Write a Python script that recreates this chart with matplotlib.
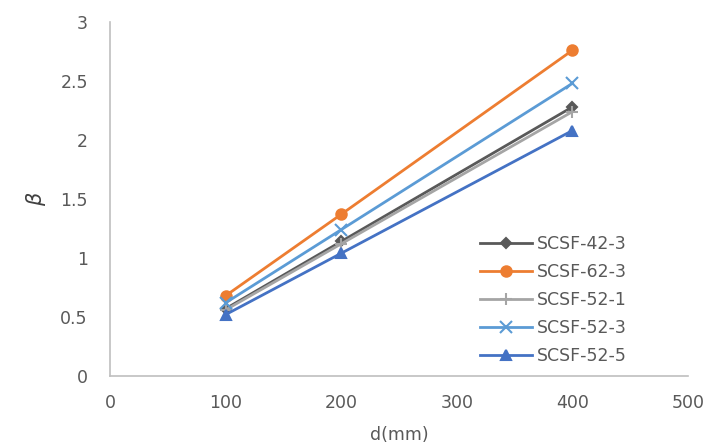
import numpy as np
import matplotlib
matplotlib.use('Agg')
import matplotlib.pyplot as plt
from matplotlib import rcParams

rcParams['font.family'] = ['DejaVu Sans']
rcParams['font.size'] = 12.5

d = [100, 200, 400]
labels = ['SCSF-42-3', 'SCSF-62-3', 'SCSF-52-1', 'SCSF-52-3', 'SCSF-52-5']
beta_42_3 = [0.57, 1.14, 2.28]
beta_62_3 = [0.68, 1.37, 2.76]
beta_52_1 = [0.56, 1.12, 2.24]
beta_52_3 = [0.62, 1.24, 2.48]
beta_52_5 = [0.52, 1.04, 2.08]
xticks = [0, 100, 200, 300, 400, 500]
yticks = [0, 0.5, 1, 1.5, 2, 2.5, 3]

series = [beta_42_3, beta_62_3, beta_52_1, beta_52_3, beta_52_5]
colors = ['#595959', '#ED7D31', '#A5A5A5', '#5B9BD5', '#4472C4']
markers = ['D', 'o', '+', 'x', '^']
msizes = [5, 7.5, 8, 8, 7.5]

W, H = 707, 446
fig = plt.figure(figsize=(W / 100, H / 100), dpi=100)
ax = fig.add_axes([110 / W, 1 - 376 / H, 578 / W, 354 / H])

for vals, lab, c, m, ms in zip(series, labels, colors, markers, msizes):
    ax.plot(d, vals, color=c, lw=2.0, marker=m, ms=ms, mew=1.5, label=lab)

ax.set_xlim(0, 500)
ax.set_ylim(0, 3)
ax.set_xticks(xticks)
ax.set_yticks(yticks)
ax.set_yticklabels(['0', '0.5', '1', '1.5', '2', '2.5', '3'])
for s in ['top', 'right']:
    ax.spines[s].set_visible(False)
for s in ['left', 'bottom']:
    ax.spines[s].set_color('#BFBFBF')
    ax.spines[s].set_linewidth(1.2)
ax.tick_params(length=0, colors='#595959', labelsize=12.5)
ax.tick_params(axis='x', pad=13)
ax.tick_params(axis='y', pad=16)
ax.set_xlabel('d(mm)', color='#595959', fontsize=12.5, labelpad=10)
ax.set_ylabel(r'$\beta$', color='#404040', fontsize=15, labelpad=9)

leg = fig.legend(loc='center left', bbox_to_anchor=(480 / W, 1 - 300 / H),
                 frameon=False, fontsize=12.5, handlelength=3.0,
                 labelspacing=0.57, handletextpad=0.3, borderpad=0,
                 borderaxespad=0)
for t in leg.get_texts():
    t.set_color('#595959')

fig.savefig('out.png', dpi=100)
